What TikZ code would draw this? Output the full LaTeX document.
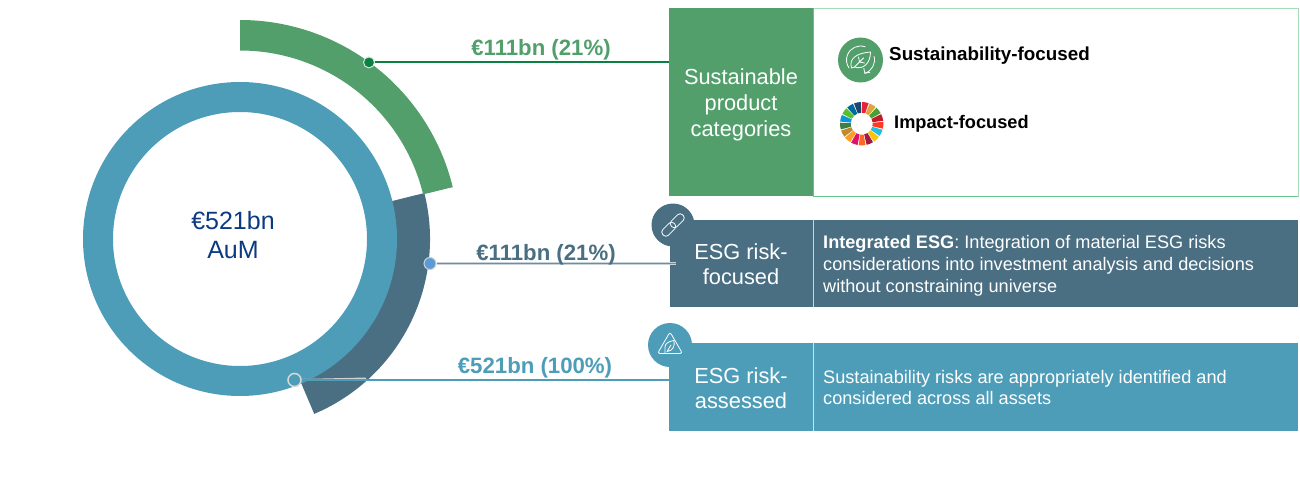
\documentclass[tikz,border=0pt]{standalone}
\usepackage{fontspec}
\setmainfont{Liberation Sans}
\definecolor{cgreen}{HTML}{529F6B}
\definecolor{cdark}{HTML}{4A6E82}
\definecolor{cblue}{HTML}{4D9DB8}
\definecolor{cnavy}{HTML}{0B3A80}
\definecolor{cline}{HTML}{0A8043}
\definecolor{cdot}{HTML}{5B9BD5}
\definecolor{cedge}{HTML}{A5DDB8}
\definecolor{cedgeb}{HTML}{62C48A}
\definecolor{sdg1}{HTML}{E5243B}\definecolor{sdg2}{HTML}{DDA63A}\definecolor{sdg3}{HTML}{4C9F38}
\definecolor{sdg4}{HTML}{C5192D}\definecolor{sdg5}{HTML}{FF3A21}\definecolor{sdg6}{HTML}{26BDE2}
\definecolor{sdg7}{HTML}{FCC30B}\definecolor{sdg8}{HTML}{A21942}\definecolor{sdg9}{HTML}{FD6925}
\definecolor{sdg10}{HTML}{DD1367}\definecolor{sdg11}{HTML}{FD9D24}\definecolor{sdg12}{HTML}{BF8B2E}
\definecolor{sdg13}{HTML}{3F7E44}\definecolor{sdg14}{HTML}{0A97D9}\definecolor{sdg15}{HTML}{56C02B}
\definecolor{sdg16}{HTML}{00689D}\definecolor{sdg17}{HTML}{19486A}
\tikzset{
  boxa/.style={anchor=north west,inner sep=0pt,outer sep=0pt,minimum width=#1},
  headtxt/.style={text=white,align=center,font=\fontsize{21.8}{26}\selectfont},
  bodytxt/.style={text=white,align=left,anchor=west,inner sep=0pt,font=\fontsize{18.15}{22}\selectfont},
  amount/.style={font=\bfseries\fontsize{22.2}{26}\selectfont,inner sep=0pt},
  catlab/.style={anchor=west,inner sep=0pt,text=black,font=\bfseries\fontsize{18.8}{22}\selectfont},
  dotmark/.style={circle,inner sep=0pt,minimum size=#1},
  iconbg/.style={circle,inner sep=0pt,minimum size=#1},
  iconline/.style={draw=white,line width=0.8pt,line cap=round,line join=round},
}
\begin{document}
\begin{tikzpicture}[x=1pt,y=-1pt]
\useasboundingbox (0,0) rectangle (1300,479);
\coordinate (c) at (240,239);
% rings
\fill[cdark] ([shift={(c)}]-67:190pt) arc[start angle=-67,end angle=14,radius=190pt]
  -- ([shift={(c)}]14:150pt) arc[start angle=14,end angle=-67,radius=150pt] -- cycle;
\fill[cblue,even odd rule] (c) circle[radius=157pt] (c) circle[radius=127pt];
\fill[cgreen] ([shift={(c)}]90:219pt) arc[start angle=90,end angle=13.7,radius=219pt]
  -- ([shift={(c)}]13.7:188.5pt) arc[start angle=13.7,end angle=90,radius=188.5pt] -- cycle;
\node[text=cnavy,align=center,inner sep=0pt,font=\fontsize{25}{29}\selectfont] (total) at (233,235) {€521bn\\AuM};
% boxes
\node[boxa=144pt,minimum height=188pt,fill=cgreen] (b1) at (669,8) {};
\node[boxa=485pt,minimum height=188pt,fill=white,draw=cedge,line width=1pt] (r1) at (813,8) {};
\node[boxa=143pt,minimum height=86.5pt,fill=cdark] (b2) at (670,220) {};
\node[boxa=485pt,minimum height=86.5pt,fill=cdark] (r2) at (813,220) {};
\node[boxa=144pt,minimum height=88pt,fill=cblue] (b3) at (669,343) {};
\node[boxa=485pt,minimum height=88pt,fill=cblue] (r3) at (813,343) {};
\draw[white!70!cdark,line width=0.8pt] (r2.north west) -- (r2.south west);
\draw[white!70!cblue,line width=0.8pt] (r3.north west) -- (r3.south west);
\draw[cedgeb,line width=1pt] (r1.north west) -- (r1.south west) -- (r1.south east);
% head texts
\node[headtxt] (h1) at (741,104.5) {Sustainable\\product\\categories};
\node[headtxt] (h2) at (741,264.5) {ESG risk-\\[-1pt]focused};
\node[headtxt] (h3) at (741,388.5) {ESG risk-\\[-1pt]assessed};
\node[bodytxt] (t2) at (823,266) {\textbf{Integrated ESG}: Integration of material ESG risks\\considerations into investment analysis and decisions\\without constraining universe};
\node[bodytxt] (t3) at (823,387.5) {Sustainability risks are appropriately identified and\\[-1pt]considered across all assets};
% connectors
\node[dotmark=11pt,fill=cline,draw=white!75!cgreen,line width=1pt] (d1) at (369,62.4) {};
\node[dotmark=12pt,fill=cdot,draw=white!70!cdark,line width=1pt] (d2) at (430,263.5) {};
\node[dotmark=13pt,fill=cblue,draw=black!15,line width=1.5pt] (d3) at (294.5,380) {};
\draw[cline,line width=2pt] (d1.east) -- (d1 -| b1.west);
\coordinate (e2) at (676,263.5);
\draw[white!70!cdark,line width=3.4pt] (d2.east) -- (e2);
\draw[cdot!80!cdark,line width=1.8pt] (d2.east) -- (e2);
\coordinate (e3) at (366,378.5);
\draw[black!18,line width=2pt] (d3.east) -- (e3);
\draw[cblue,line width=2pt] (d3.east) -- (d3 -| b3.west);
\node[amount,text=cgreen] (a1) at (541,50) {€111bn (21\%)};
\node[amount,text=cdark] (a2) at (546,255) {€111bn (21\%)};
\node[amount,text=cblue] (a3) at (535,368) {€521bn (100\%)};
% category icons
\node[iconbg=45pt,fill=cgreen] (i1) at (860.5,60) {};
\begin{scope}[shift={(i1)}]
  \draw[iconline] (-9,8) .. controls (-12,-2) and (-3,-7) .. (10,-8) .. controls (10,3) and (3,10) .. (-6,7) -- (-9,8);
  \draw[iconline] (-6,7) -- (3,-2) (-1,2) -- (-2,-3) (-1,2) -- (4,3);
\end{scope}
\draw[iconline] ([shift={(i1)}]70:14pt) arc[start angle=70,end angle=215,radius=14pt];
\draw[iconline] ([shift={(i1)}]15:14pt) arc[start angle=15,end angle=-72,radius=14pt];
\draw[iconline] ([shift={(i1)}]-72:14pt) ++(-1,-5) -- ++(1,5) -- ++(5,-1);
\node[catlab] (l1) at (889,56) {Sustainability-focused};
\coordinate (w) at (861.7,123.7);
\foreach \i in {1,...,17}{
  \pgfmathsetmacro{\sa}{89.6-(\i-1)*360/17}
  \pgfmathsetmacro{\ea}{\sa-360/17+3}
  \fill[sdg\i] ([shift={(w)}]\sa:21.7pt) arc[start angle=\sa,end angle=\ea,radius=21.7pt]
    -- ([shift={(w)}]\ea:11pt) arc[start angle=\ea,end angle=\sa,radius=11pt] -- cycle;
}
\node[catlab,font=\bfseries\fontsize{18.2}{22}\selectfont] (l2) at (894,124) {Impact-focused};
% side icons
\node[iconbg=43pt,fill=cdark] (i2) at (673,225) {};
\begin{scope}[shift={(i2)},rotate=45]
  \draw[iconline,rounded corners=3.5pt] (-14,-4) rectangle (2,4);
  \draw[iconline,rounded corners=3.5pt] (-2,-4) rectangle (14,4);
\end{scope}
\node[iconbg=44pt,fill=cblue] (i3) at (670,345) {};
\begin{scope}[shift={(i3)}]
  \draw[iconline,rounded corners=2.5pt] (-5,8.5) -- (-12.5,8.5) -- (0,-13) -- (12.5,8.5) -- (-5,8.5);
  \draw[iconline] (-5,8.5) -- (-5,2) .. controls (-5,-2) and (0,-4) .. (4,-4.5) .. controls (5,1) and (3,6) .. (-3,6.5) (-3,6.5) -- (1,0);
\end{scope}
\end{tikzpicture}
\end{document}
